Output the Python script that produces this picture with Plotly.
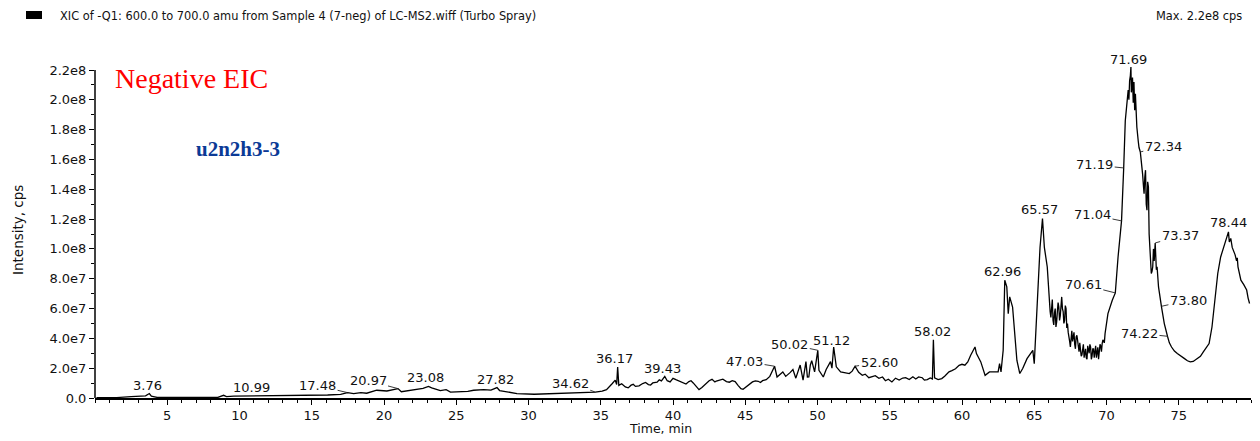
import numpy as np
import plotly.graph_objects as go

# ---------------- data (time in min, intensity in 1e6 cps) ----------------
time_min = [0.1, 1.5, 2.5, 3.0, 3.5, 3.76, 3.9, 4.3, 6.0, 8.5, 8.9, 9.1, 9.6, 10.99, 12.5, 13.8,
            15.0, 16.1, 17.0, 17.48, 17.9, 18.4, 19.1, 19.5, 20.2, 20.5, 20.97, 21.6, 22.3, 22.7,
            23.08, 23.3, 23.9, 24.6, 25.3, 26.2, 26.9, 27.4, 27.82, 28.0, 28.5, 29.2, 30.4, 31.5,
            32.2, 33.5, 34.62, 35.4, 35.8, 36.0, 36.1, 36.17, 36.25, 36.7, 37.1, 37.4, 37.9, 38.3,
            38.6, 39.2, 39.43, 39.8, 40.2, 40.7, 41.1, 41.4, 41.8, 42.5, 42.9, 43.2, 43.7, 44.1,
            44.7, 45.0, 45.5, 45.9, 46.2, 46.7, 47.03, 47.2, 47.6, 47.8, 48.1, 48.3, 48.5, 48.7,
            48.8, 49.0, 49.1, 49.2, 49.3, 49.4, 49.5, 49.6, 49.8, 50.02, 50.1, 50.4, 50.6, 50.9,
            51.0, 51.12, 51.3, 51.6, 52.2, 52.6, 53.1, 53.8, 54.5, 54.7, 55.4, 56.1, 57.0, 57.6,
            57.95, 58.02, 58.1, 58.6, 59.1, 59.8, 60.4, 60.6, 60.9, 61.0, 61.3, 61.6, 61.9, 62.5,
            62.6, 62.7, 62.85, 62.96, 63.1, 63.2, 63.3, 63.5, 63.6, 63.8, 64.0, 64.2, 64.5, 64.9,
            65.0, 65.1, 65.2, 65.4, 65.57, 65.7, 65.9, 66.0, 66.1, 66.2, 66.3, 66.4, 66.5, 66.6,
            66.7, 66.8, 66.9, 67.0, 67.1, 67.2, 67.3, 67.4, 67.5, 67.6, 67.7, 67.8, 67.9, 68.0,
            68.1, 68.2, 68.3, 68.4, 68.5, 68.6, 68.7, 68.8, 68.9, 69.0, 69.1, 69.2, 69.3, 69.4,
            69.5, 69.6, 69.7, 69.8, 69.9, 70.0, 70.1, 70.4, 70.61, 70.8, 71.04, 71.19, 71.3, 71.5,
            71.6, 71.69, 71.75, 71.9, 71.95, 72.1, 72.2, 72.34, 72.45, 72.6, 72.7, 72.8, 72.9, 73.0,
            73.1, 73.2, 73.37, 73.5, 73.6, 73.8, 74.0, 74.22, 74.5, 74.9, 75.4, 75.8, 76.3, 76.7,
            77.1, 77.3, 77.5, 77.7, 77.9, 78.2, 78.44, 78.5, 78.8, 79.0, 79.1, 79.3, 79.7, 79.9]

intensity_e6 = [0.2, 0.3, 0.9, 1.1, 1.4, 3.0, 1.2, 0.4, 0.3, 0.4, 1.8, 0.9, 1.2, 1.3, 1.3, 1.5,
                1.8, 2.0, 2.4, 3.6, 3.0, 3.6, 4.0, 5.2, 4.7, 5.4, 6.3, 4.8, 5.6, 6.4,
                7.8, 6.8, 4.9, 4.0, 4.0, 5.2, 5.6, 5.3, 7.0, 5.0, 4.0, 3.0, 2.5, 2.8,
                3.0, 3.8, 4.0, 5.6, 9.7, 12.0, 9.0, 20.8, 8.5, 7.4, 8.6, 7.8, 9.7, 9.0,
                10.1, 11.5, 14.5, 10.8, 12.3, 10.1, 11.0, 10.1, 5.6, 11.6, 10.8, 12.0, 11.0, 11.6,
                6.3, 6.9, 10.8, 11.2, 11.6, 14.5, 21.3, 14.1, 17.5, 14.5, 17.0, 19.1, 13.3, 18.5,
                22.1, 12.0, 20.0, 24.4, 14.0, 14.1, 22.0, 25.1, 17.5, 32.0, 18.6, 14.1, 19.1, 24.4,
                20.0, 34.2, 20.9, 17.5, 16.4, 21.3, 15.2, 14.1, 14.1, 11.6, 13.3, 13.7, 14.1, 12.3,
                12.8, 39.0, 13.5, 13.0, 17.5, 21.9, 24.2, 28.7, 34.2, 29.8, 24.2, 15.2, 17.5, 17.5,
                23.0, 17.5, 32.0, 79.0, 74.5, 56.6, 67.8, 61.0, 47.6, 25.2, 16.4, 19.8, 26.4, 32.0,
                23.0, 43.2, 65.6, 101.0, 120.4, 101.0, 87.9, 67.8, 58.0, 63.0, 52.0, 57.0, 47.6, 58.0,
                61.0, 55.0, 67.8, 58.0, 52.0, 60.0, 49.9, 42.0, 34.2, 45.0, 43.2, 36.0, 41.0, 38.7,
                31.0, 34.0, 29.0, 36.0, 29.8, 27.0, 35.0, 30.0, 34.2, 28.0, 33.0, 32.0, 27.0, 34.0,
                30.0, 35.0, 36.5, 38.0, 43.2, 50.0, 56.6, 65.6, 70.5, 94.6, 118.8, 154.3, 186.0, 206.5,
                213.0, 222.0, 208.7, 212.0, 193.0, 181.8, 172.0, 165.0, 155.0, 137.0, 152.8, 126.0, 141.6, 101.0,
                83.5, 88.0, 104.0, 88.0, 74.5, 61.5, 49.9, 41.4, 34.2, 29.8, 26.4, 24.2, 26.4, 30.9,
                36.5, 47.6, 65.6, 83.5, 94.6, 103.6, 111.4, 104.7, 99.0, 92.0, 88.0, 79.0, 72.4, 63.4]

# extra readings of the noisy stretches
detail_time = [18.8, 21.2, 22.0, 24.3, 25.8, 28.8, 33.0, 35.1,
               36.45, 36.9, 37.25, 37.65, 38.1, 38.45, 38.9, 39.05, 39.6, 40.0, 40.45, 40.9,
               41.25, 41.6, 42.0, 42.25, 42.7, 43.0, 43.45, 43.9, 44.3, 44.5, 44.85, 45.25,
               45.7, 46.05, 46.45, 52.4, 52.85, 53.3, 53.55, 54.0, 54.25, 54.9, 55.15, 55.65,
               55.9, 56.35, 56.6, 56.8, 57.25, 57.4, 57.8, 58.35, 58.8, 59.3, 59.55, 60.0, 60.2,
               66.05, 66.15, 66.25, 66.35, 66.45, 66.55, 66.65, 66.75, 66.85, 66.95, 67.05, 67.15,
               67.25, 67.35, 67.45, 67.55, 67.65, 67.75, 67.85, 67.95, 68.05, 68.15, 68.25, 68.35,
               68.45, 68.55, 68.65, 68.75, 68.85, 68.95, 69.05, 69.15, 69.25, 69.35, 69.45, 69.55,
               69.65, 69.75, 69.85, 69.95, 71.55, 71.65, 71.72, 71.8, 71.85, 72.0, 72.05, 72.25,
               72.4, 72.5, 72.55, 72.65, 72.75, 72.85, 72.95, 73.05, 73.15, 73.25, 73.3, 73.42,
               73.45, 74.35, 74.7, 75.1, 75.6, 76.0, 76.5, 78.3, 78.35, 78.6, 78.7, 78.9, 79.05,
               79.2, 79.5, 79.8]
detail_e6 = [3.2, 4.2, 5.0, 5.6, 4.5, 3.5, 3.5, 4.6,
             9.6, 6.8, 9.2, 8.2, 10.4, 8.7, 10.6, 12.2, 11.6, 13.2, 11.2, 9.4,
             11.6, 8.0, 7.0, 9.5, 12.5, 11.4, 12.6, 10.6, 11.0, 8.5, 5.8, 8.5,
             11.5, 10.4, 12.3, 18.0, 17.2, 16.0, 13.6, 15.0, 13.2, 12.6, 10.8, 12.1,
             13.4, 12.4, 14.2, 12.8, 13.6, 12.0, 13.4, 12.4, 14.6, 18.4, 19.6, 22.6, 22.0,
             62.0, 54.0, 66.0, 49.0, 60.0, 51.0, 64.0, 52.0, 63.0, 60.0, 50.0, 62.0,
             47.0, 44.0, 38.0, 42.0, 38.0, 44.0, 33.0, 42.0, 35.0, 37.0, 28.0, 34.0,
             27.0, 33.0, 26.0, 31.0, 36.0, 26.0, 33.0, 27.0, 35.0, 30.0, 26.0, 36.0,
             31.0, 39.0, 37.0, 47.0, 200.0, 216.0, 205.0, 215.0, 198.0, 204.0, 186.0, 168.0,
             160.0, 150.0, 143.0, 148.0, 130.0, 145.0, 110.0, 90.0, 85.0, 100.0, 92.0, 96.0,
             86.0, 37.0, 31.5, 28.2, 25.0, 24.5, 28.0, 106.0, 109.0, 107.0, 101.0, 96.0, 94.0,
             83.0, 76.0, 67.0]

peak_labels = ["3.76", "10.99", "17.48", "20.97", "23.08", "27.82", "34.62", "36.17", "39.43",
               "47.03", "50.02", "51.12", "52.60", "58.02", "62.96", "65.57", "70.61", "71.04",
               "71.19", "71.69", "72.34", "73.37", "73.80", "74.22", "78.44"]

y_tick_vals = [0, 2e7, 4e7, 6e7, 8e7, 1e8, 1.2e8, 1.4e8, 1.6e8, 1.8e8, 2.0e8, 2.2e8]
y_tick_text = ["0.0", "2.0e7", "4.0e7", "6.0e7", "8.0e7", "1.0e8", "1.2e8", "1.4e8",
               "1.6e8", "1.8e8", "2.0e8", "2.2e8"]
x_tick_vals = [5, 10, 15, 20, 25, 30, 35, 40, 45, 50, 55, 60, 65, 70, 75]

t_all = np.array(time_min + detail_time)
y_all = np.array(intensity_e6 + detail_e6) * 1e6
order = np.argsort(t_all)
t = t_all[order]
y = y_all[order]

# label placement: (mode, dx, dy) ; 'up' = plain text shifted (px), 'lead' = leader line offset (ax, ay)
label_style = {
    "3.76": ("up", -2, 8), "10.99": ("up", -2, 9), "17.48": ("lead", -30, -7),
    "20.97": ("lead", -30, -8), "23.08": ("up", -3, 9), "27.82": ("up", -2, 8),
    "34.62": ("lead", -25, -9), "36.17": ("up", -3, 8), "39.43": ("up", -2, 8),
    "47.03": ("lead", -30, -5), "50.02": ("lead", -28, -6), "51.12": ("up", -2, 7),
    "52.60": ("lead", 24, -4), "58.02": ("up", -1, 8), "62.96": ("up", -2, 9),
    "65.57": ("up", -3, 9), "70.61": ("lead", -32, -8), "71.04": ("lead", -29, -6),
    "71.19": ("lead", -29, -3), "71.69": ("up", -2, 8), "72.34": ("lead", 23, -6),
    "73.37": ("lead", 25, -7), "73.80": ("lead", 27, -6), "74.22": ("lead", -28, -3),
    "78.44": ("up", 0, 9),
}

TXT = "#111111"
SANS = "DejaVu Sans"

# plot area in pixels (1260 x 441 page)
L, R, T, B = 95, 9, 61, 43
W, H = 1260 - L - R, 441 - T - B
Y_TOP = 2.2e8 / (1 - 9 / H)


def px(xp, yp):
    return (xp - L) / W, (441 - B - yp) / H


fig = go.Figure()

fig.add_trace(go.Scatter(x=t, y=y, mode="lines",
                         line=dict(color="black", width=1.3),
                         showlegend=False, hoverinfo="x+y"))

# threshold marker on the y axis
fig.add_trace(go.Scatter(x=[-0.05], y=[1.07e7], mode="markers",
                         marker=dict(symbol="triangle-right", size=10, color="black"),
                         cliponaxis=False, showlegend=False, hoverinfo="skip"))

annotations = []
for lab in peak_labels:
    tv = float(lab)
    yv = float(np.interp(tv, t, y))
    mode, dx, dy = label_style[lab]
    if mode == "up":
        annotations.append(dict(x=tv, y=yv, text=lab, showarrow=False,
                                xanchor="center", yanchor="middle",
                                xshift=dx, yshift=dy,
                                font=dict(family=SANS, size=13, color=TXT)))
    else:
        annotations.append(dict(x=tv, y=yv, text=lab, showarrow=True,
                                arrowhead=0, arrowwidth=0.9, arrowcolor="#222",
                                ax=dx, ay=dy, standoff=0,
                                font=dict(family=SANS, size=13, color=TXT)))

# header and titles
hx, hy = px(58, 16)
annotations.append(dict(x=hx, y=hy, xref="paper", yref="paper", showarrow=False,
                        xanchor="left", yanchor="middle",
                        text="XIC of -Q1: 600.0 to 700.0 amu from Sample 4 (7-neg) of LC-MS2.wiff (Turbo Spray)",
                        font=dict(family=SANS, size=11.4, color=TXT)))
mx, my = px(1244, 16)
annotations.append(dict(x=mx, y=my, xref="paper", yref="paper", showarrow=False,
                        xanchor="right", yanchor="middle", text="Max. 2.2e8 cps",
                        font=dict(family=SANS, size=11.4, color=TXT)))
nx, ny = px(113, 79)
annotations.append(dict(x=nx, y=ny, xref="paper", yref="paper", showarrow=False,
                        xanchor="left", yanchor="middle", text="Negative EIC",
                        font=dict(family="Liberation Serif", size=28, color="#ff0000")))
ux, uy = px(194, 149)
annotations.append(dict(x=ux, y=uy, xref="paper", yref="paper", showarrow=False,
                        xanchor="left", yanchor="middle", text="<b>u2n2h3-3</b>",
                        font=dict(family="Liberation Serif", size=21, color="#0b3a96")))
ax_, ay_ = px(660, 428)
annotations.append(dict(x=ax_, y=ay_, xref="paper", yref="paper", showarrow=False,
                        xanchor="center", yanchor="middle", text="Time, min",
                        font=dict(family=SANS, size=12.5, color=TXT)))
ix, iy = px(18, 230)
annotations.append(dict(x=ix, y=iy, xref="paper", yref="paper", showarrow=False,
                        xanchor="center", yanchor="middle", text="Intensity, cps",
                        textangle=-90, font=dict(family=SANS, size=13.5, color=TXT)))

# black legend box in header + y axis line stopping at top tick
bx0, by0 = px(26, 11)
bx1, by1 = px(42, 19)
shapes = [
    dict(type="rect", xref="paper", yref="paper", x0=bx0, y0=by0, x1=bx1, y1=by1,
         fillcolor="black", line=dict(width=0)),
    dict(type="line", xref="paper", yref="y", x0=0, x1=0, y0=0, y1=2.2e8,
         line=dict(color="black", width=1.5)),
]

fig.update_layout(
    width=1260, height=441,
    margin=dict(l=L, r=R, t=T, b=B, autoexpand=False),
    paper_bgcolor="white", plot_bgcolor="white",
    font=dict(family=SANS, size=12, color=TXT),
    annotations=annotations, shapes=shapes,
    xaxis=dict(range=[0, 80], showgrid=False, zeroline=False, automargin=False,
               showline=True, linecolor="black", linewidth=1.5,
               tickmode="array", tickvals=x_tick_vals,
               ticks="outside", ticklen=5, tickwidth=1, tickcolor="black",
               tickfont=dict(family=SANS, size=13, color=TXT),
               minor=dict(tickmode="linear", tick0=0, dtick=1, ticks="outside",
                          ticklen=3, tickcolor="black", showgrid=False)),
    yaxis=dict(range=[0, Y_TOP], showgrid=False, zeroline=False, showline=False,
               automargin=False,
               tickmode="array", tickvals=y_tick_vals, ticktext=y_tick_text,
               ticks="outside", ticklen=5, tickwidth=1, tickcolor="black",
               tickfont=dict(family=SANS, size=13, color=TXT),
               minor=dict(tickmode="linear", tick0=0, dtick=1e7, ticks="outside",
                          ticklen=3, tickcolor="black", showgrid=False)),
)

fig.write_html("out.html", config={"displayModeBar": False},
               post_script="document.body.style.margin='0';")
